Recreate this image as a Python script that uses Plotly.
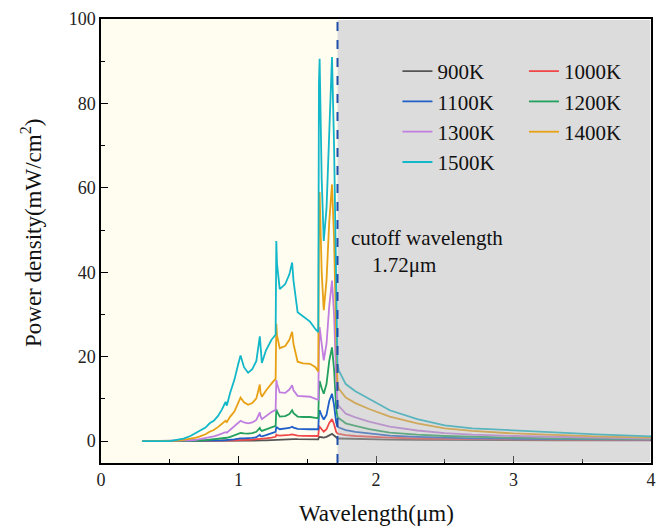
import plotly.graph_objects as go

# Shared wavelength grid (µm)
wavelength = [0.30, 0.50, 0.55, 0.60, 0.65, 0.69, 0.72, 0.76, 0.79, 0.82, 0.85, 0.88, 0.906, 0.915,
              0.94, 0.97, 1.00, 1.015, 1.04, 1.07, 1.10, 1.13, 1.155, 1.16, 1.17, 1.20, 1.24, 1.27,
              1.275, 1.28, 1.30, 1.34, 1.37, 1.39, 1.40, 1.43, 1.47, 1.52, 1.56, 1.58, 1.585, 1.59,
              1.605, 1.62, 1.64, 1.66, 1.68, 1.695, 1.71, 1.72, 1.73, 1.78, 1.85, 1.95, 2.1, 2.3,
              2.5, 2.7, 3.0, 3.3, 3.6, 4.0]

p900 = [0, 0, 0, 0, 0, 0, 0, 0, 0, 0, 0, 0.01, 0.01, 0.01,
        0.02, 0.03, 0.05, 0.06, 0.06, 0.07, 0.09, 0.11, 0.16, 0.14, 0.14, 0.18, 0.24, 0.3,
        0.45, 0.43, 0.4, 0.42, 0.45, 0.5, 0.48, 0.44, 0.43, 0.43, 0.42, 0.42, 0.9, 1.0,
        0.9, 0.8, 1.0, 1.4, 1.7, 1.3, 0.8, 0.65, 0.6, 0.55, 0.5, 0.42, 0.35, 0.3,
        0.25, 0.22, 0.2, 0.18, 0.16, 0.15]

p1000 = [0, 0, 0, 0, 0, 0, 0, 0, 0, 0.01, 0.02, 0.04, 0.06, 0.06,
         0.1, 0.15, 0.2, 0.25, 0.25, 0.3, 0.35, 0.4, 0.6, 0.5, 0.5, 0.65, 0.8, 1.0,
         1.5, 1.4, 1.3, 1.35, 1.45, 1.6, 1.5, 1.3, 1.25, 1.25, 1.2, 1.2, 3.0, 3.4,
         2.8, 2.2, 2.8, 4.3, 5.2, 4.0, 2.2, 1.8, 1.7, 1.4, 1.2, 1.0, 0.8, 0.6,
         0.5, 0.45, 0.4, 0.35, 0.3, 0.25]

p1100 = [0, 0, 0, 0, 0, 0, 0.01, 0.03, 0.05, 0.08, 0.12, 0.17, 0.22, 0.22,
         0.3, 0.4, 0.55, 0.65, 0.62, 0.65, 0.75, 0.9, 1.5, 1.2, 1.1, 1.4, 1.8, 2.2,
         3.4, 3.2, 2.8, 2.9, 3.1, 3.4, 3.2, 2.9, 2.8, 2.8, 2.8, 2.8, 6.5, 7.3,
         6.0, 5.1, 6.2, 9.5, 11.2, 8.5, 4.5, 3.4, 3.2, 2.6, 2.2, 1.8, 1.3, 1.0,
         0.8, 0.65, 0.55, 0.45, 0.4, 0.35]

p1200 = [0, 0, 0, 0, 0.03, 0.08, 0.13, 0.2, 0.3, 0.38, 0.5, 0.62, 0.8, 0.78,
         1.0, 1.3, 1.7, 1.9, 1.8, 1.75, 1.9, 2.2, 3.1, 2.7, 2.4, 2.8, 3.3, 3.6,
         7.5, 7.0, 5.8, 5.9, 6.4, 7.3, 6.6, 5.8, 5.7, 5.7, 5.5, 5.4, 12.0, 14.2,
         12.5, 11.2, 13.5, 19.0, 22.2, 17.0, 8.0, 5.7, 5.4, 4.2, 3.6, 2.8, 2.0, 1.5,
         1.2, 1.0, 0.8, 0.65, 0.55, 0.45]

p1300 = [0, 0, 0, 0.05, 0.15, 0.3, 0.45, 0.65, 0.9, 1.1, 1.4, 1.7, 2.1, 2.0,
         2.7, 3.4, 4.3, 4.8, 4.4, 4.2, 4.4, 5.0, 6.8, 5.9, 5.2, 6.0, 6.9, 7.4,
         14.5, 13.6, 11.5, 11.4, 12.2, 13.2, 12.0, 10.7, 10.6, 10.5, 10.0, 9.8, 22.0, 27.0,
         23.0, 19.1, 23.0, 32.0, 38.0, 30.0, 15.0, 8.8, 8.3, 6.5, 5.6, 4.6, 3.4, 2.5,
         1.9, 1.5, 1.2, 1.0, 0.8, 0.6]

p1400 = [0, 0, 0.1, 0.3, 0.5, 0.8, 1.1, 1.6, 2.2, 2.6, 3.3, 4.0, 4.8, 4.5,
         5.8, 7.0, 9.2, 10.3, 9.2, 8.6, 9.0, 10.1, 13.4, 11.5, 10.5, 12.0, 13.6, 14.8,
         27.8, 25.0, 22.0, 22.5, 24.0, 25.9, 23.0, 18.8, 18.4, 18.3, 17.5, 16.5, 50.0, 59.0,
         40.0, 31.0, 38.0, 52.0, 60.8, 48.0, 25.0, 13.5, 12.4, 10.3, 9.0, 7.6, 5.8, 4.2,
         3.0, 2.4, 1.8, 1.4, 1.1, 0.8]

p1500 = [0, 0, 0.3, 0.6, 1.2, 1.9, 2.3, 3.2, 4.2, 4.8, 5.9, 7.5, 9.3, 8.4,
         11.5, 14.5, 18.5, 20.3, 17.5, 16.2, 17.0, 19.0, 24.8, 22.0, 18.5, 21.5, 24.0, 25.2,
         47.4, 42.0, 36.0, 37.2, 39.5, 42.3, 38.0, 30.5, 29.5, 28.3, 26.5, 25.8, 85.0, 90.6,
         62.0, 47.4, 55.0, 75.0, 91.0, 70.0, 35.0, 18.0, 16.7, 13.5, 11.8, 10.0, 7.3, 5.2,
         3.7, 3.0, 2.5, 2.0, 1.6, 1.1]

series_names = ["900K", "1000K", "1100K", "1200K", "1300K", "1400K", "1500K"]
series_values = [p900, p1000, p1100, p1200, p1300, p1400, p1500]
series_colors = ["#555555", "#F04848", "#1F5FC8", "#22A05E", "#C07EE0", "#E8A015", "#12B7C9"]
# legend column for each series (two-column legend, filled row by row)
series_legend = ["legend", "legend2", "legend", "legend2", "legend", "legend2", "legend"]

cutoff = 1.72
x_ticks = [0, 1, 2, 3, 4]
y_ticks = [0, 20, 40, 60, 80, 100]

FONT = "Liberation Serif"

fig = go.Figure()
for name, vals, col, leg in zip(series_names, series_values, series_colors, series_legend):
    fig.add_trace(go.Scatter(x=wavelength, y=vals, mode="lines", name=name, legend=leg,
                             line=dict(color=col, width=1.8)))

# backgrounds
fig.add_shape(type="rect", xref="x", yref="paper", x0=0, x1=cutoff, y0=0, y1=1,
              fillcolor="#FFFDF0", line=dict(width=0), layer="below")
fig.add_shape(type="rect", xref="x", yref="paper", x0=cutoff, x1=3.995, y0=0.002, y1=0.998,
              fillcolor="#B1B1B1", opacity=0.45, line=dict(width=0), layer="above")
fig.add_shape(type="line", xref="x", yref="paper", x0=cutoff, x1=cutoff, y0=0, y1=1,
              line=dict(color="#1F4FA8", width=2, dash="dash"), layer="above")

fig.add_annotation(x=2.37, y=48.2, xref="x", yref="y", text="cutoff wavelength",
                   showarrow=False, font=dict(family=FONT, size=21, color="#111111"))
fig.add_annotation(x=2.2, y=41.6, xref="x", yref="y", text="1.72μm",
                   showarrow=False, font=dict(family=FONT, size=21, color="#111111"))

# axis titles placed as annotations
fig.add_annotation(x=0.5, y=0, xref="paper", yref="paper", yshift=-50, yanchor="middle",
                   text="Wavelength(μm)", showarrow=False,
                   font=dict(family=FONT, size=23, color="#111111"))
fig.add_annotation(x=0, y=0.518, xref="paper", yref="paper", xshift=-70, xanchor="center",
                   text="Power density(mW/cm<sup>2</sup>)", textangle=-90, showarrow=False,
                   font=dict(family=FONT, size=23, color="#111111"))

axis_common = dict(showline=True, linecolor="black", linewidth=1.5, mirror=True,
                   ticks="inside", ticklen=7, tickwidth=1.3, tickcolor="black",
                   showgrid=False, zeroline=False,
                   tickfont=dict(family=FONT, size=18, color="#222222"))

fig.update_xaxes(range=[0, 4], tickvals=x_ticks, ticktext=[str(v) for v in x_ticks],
                 minor=dict(ticks="inside", ticklen=4, tickwidth=1.2, tickcolor="black", dtick=0.5),
                 **axis_common)
fig.update_yaxes(range=[-5.2, 100], tickvals=y_ticks, ticktext=[str(v) for v in y_ticks],
                 minor=dict(ticks="inside", ticklen=4, tickwidth=1.2, tickcolor="black",
                            tickvals=[10, 30, 50, 70, 90]),
                 **axis_common)

legend_font = dict(family=FONT, size=21, color="#111111")
fig.update_layout(
    width=665, height=530,
    margin=dict(l=101, r=9, t=17, b=67),
    paper_bgcolor="white", plot_bgcolor="white",
    showlegend=True,
    legend=dict(x=0.539, y=0.928, xanchor="left", yanchor="top", bgcolor="rgba(0,0,0,0)",
                font=legend_font, tracegroupgap=0),
    legend2=dict(x=0.769, y=0.928, xanchor="left", yanchor="top", bgcolor="rgba(0,0,0,0)",
                 font=legend_font, tracegroupgap=0),
)

fig.write_html("out.html", config={"displayModeBar": False},
               post_script="document.body.style.margin='0';")
